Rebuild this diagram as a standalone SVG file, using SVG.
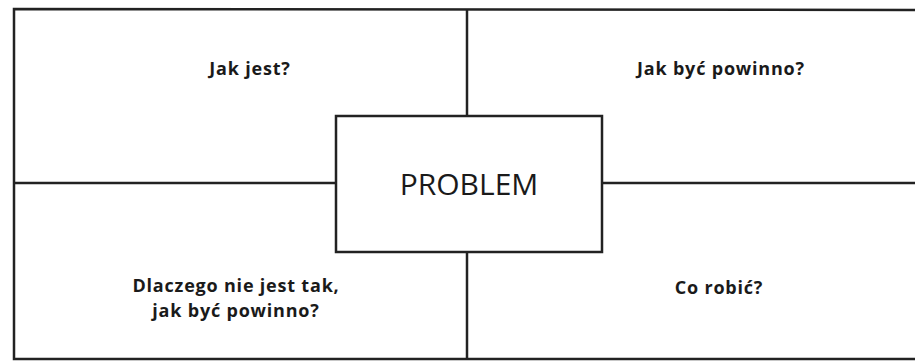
<svg xmlns="http://www.w3.org/2000/svg" width="915" height="361" viewBox="0 0 915 361">
<style>
.ln{stroke:#222;stroke-width:2.5;fill:none}
.lbl{font-family:"Open Sans","Liberation Sans",sans-serif;font-weight:bold;font-size:18px;letter-spacing:0.8px;fill:#1a1a1a;text-anchor:middle}
.big{font-family:"Open Sans","Liberation Sans",sans-serif;font-size:30px;fill:#1a1a1a;text-anchor:middle}
</style>
<rect width="915" height="361" fill="#fff"/>
<g id="connectors">
<path class="ln" d="M915,10 L14,9 L14,359 L915,359"/>
<path class="ln" d="M467,10 L467,116"/>
<path class="ln" d="M467,252 L467,359"/>
<path class="ln" d="M14,183 L336,183"/>
<path class="ln" d="M602,183 L915,183"/>
</g>
<g id="problem">
<rect class="ln" x="336" y="116" width="266" height="136"/>
<text class="big" x="469" y="195">PROBLEM</text>
</g>
<g id="q1"><text class="lbl" x="250" y="75">Jak jest?</text></g>
<g id="q2"><text class="lbl" x="721" y="75">Jak być powinno?</text></g>
<g id="q3"><text class="lbl" x="236" y="292">Dlaczego nie jest tak,</text><text class="lbl" x="236" y="317">jak być powinno?</text></g>
<g id="q4"><text class="lbl" x="719" y="294">Co robić?</text></g>
</svg>
